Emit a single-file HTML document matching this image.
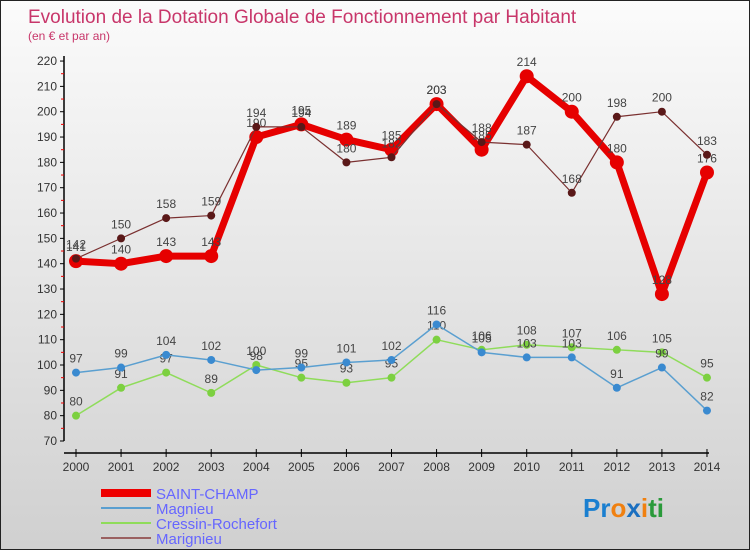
<!DOCTYPE html>
<html><head><meta charset="utf-8"><style>
body{margin:0;width:750px;height:550px;overflow:hidden;font-family:"Liberation Sans",sans-serif}
#wrap{position:relative;width:748px;height:548px;border:1px solid #222;background:linear-gradient(#fbfbfb,#d0d0d0)}
</style></head><body>
<div id="wrap">
<svg id="chart" width="748" height="548">
<text x="27" y="22" font-size="19" fill="#c8366a">Evolution de la Dotation Globale de Fonctionnement par Habitant</text>
<text x="27" y="39" font-size="12" fill="#c8366a">(en € et par an)</text>
<g id="axes"></g><g id="series"></g>
<g>
<rect x="100" y="488" width="50" height="8" fill="#e00"/>
<text x="155" y="498" font-size="15" fill="#66f">SAINT-CHAMP</text>
<line x1="100" y1="507" x2="150" y2="507" stroke="#5a9fd0" stroke-width="2"/>
<text x="155" y="513" font-size="15" fill="#66f">Magnieu</text>
<line x1="100" y1="522" x2="150" y2="522" stroke="#8fdc5a" stroke-width="2"/>
<text x="155" y="528" font-size="15" fill="#66f">Cressin-Rochefort</text>
<line x1="100" y1="537" x2="150" y2="537" stroke="#9a6060" stroke-width="2"/>
<text x="155" y="543" font-size="15" fill="#66f">Marignieu</text>
</g>
<text x="582" y="516" font-size="26" font-weight="bold"><tspan fill="#1a7fd0">Pr</tspan><tspan fill="#f08010">o</tspan><tspan fill="#1a6fc0">x</tspan><tspan fill="#f08010">i</tspan><tspan fill="#2a9a3a">ti</tspan></text>
</svg></div>
<script>
const years=[2000,2001,2002,2003,2004,2005,2006,2007,2008,2009,2010,2011,2012,2013,2014];
const saintChamp=[141,140,143,143,190,195,189,185,203,185,214,200,180,128,176];
const magnieu=[97,99,104,102,98,99,101,102,116,105,103,103,91,99,82];
const cressin=[80,91,97,89,100,95,93,95,110,106,108,107,106,105,95];
const marignieu=[142,150,158,159,194,194,180,182,203,188,187,168,198,200,183];
const yTicks=[70,80,90,100,110,120,130,140,150,160,170,180,190,200,210,220];
const NS="http://www.w3.org/2000/svg";
const xs=i=>75+i*45.07;
const ys=v=>440-(v-70)*2.533;
function mk(t,a,p){const e=document.createElementNS(NS,t);for(const k in a)e.setAttribute(k,a[k]);p.appendChild(e);return e;}
const ax=document.getElementById('axes');
let yl=mk('line',{x1:63,y1:55,x2:63,y2:440,stroke:'#000','stroke-width':1.5},ax);


let xl=mk('line',{x1:63,y1:452,x2:708,y2:452,stroke:'#000','stroke-width':1.5},ax);


yTicks.forEach(v=>{const y=ys(v);
mk('line',{x1:59,y1:y,x2:63,y2:y,stroke:'#000'},ax);
if(v<220)mk('line',{x1:60,y1:y-12.67,x2:63,y2:y-12.67,stroke:'#e00'},ax);
const t=mk('text',{x:56,y:y+4,'font-size':12,fill:'#333','text-anchor':'end'},ax);t.textContent=v;

});
years.forEach((yr,i)=>{const x=xs(i);mk('line',{x1:x,y1:448,x2:x,y2:456,stroke:'#000'},ax);
const t=mk('text',{x:x,y:470,'font-size':12,fill:'#333','text-anchor':'middle'},ax);t.textContent=yr;

});
const sg=document.getElementById('series');
function draw(data,name,color,w,r,dot){const g=mk('g',{},sg);


mk('polyline',{points:data.map((v,i)=>xs(i)+','+ys(v)).join(' '),fill:'none',stroke:color,'stroke-width':w,'stroke-linejoin':'round'},g);
data.forEach((v,i)=>{const c=mk('circle',{cx:xs(i),cy:ys(v),r:r,fill:dot},g);


const t=mk('text',{x:xs(i),y:ys(v)-10,'font-size':12,fill:'#444','text-anchor':'middle'},g);t.textContent=v;});}
draw(cressin,'cressin','#8fdc5a',1.5,4,'#7cd040');
draw(magnieu,'magnieu','#5a9fd0',1.5,4,'#3a8ad0');
draw(saintChamp,'saint-champ','#e60000',7,7,'#e60000');
draw(marignieu,'marignieu','#7a3030',1.2,4,'#5a1818');
</script></body></html>
